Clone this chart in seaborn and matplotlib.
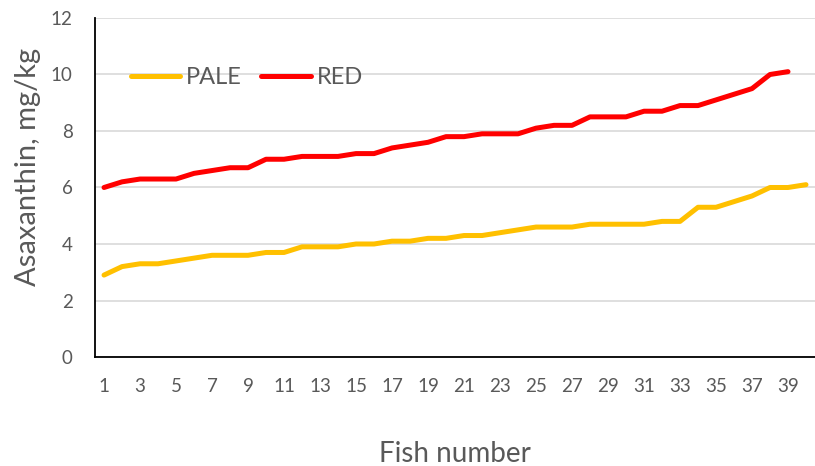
import pandas as pd
import matplotlib.pyplot as plt
import seaborn as sns

# Astaxanthin per fish, sorted ascending
fish_pale = list(range(1, 41))
pale = [2.9, 3.2, 3.3, 3.3, 3.4, 3.5, 3.6, 3.6, 3.6, 3.7,
        3.7, 3.9, 3.9, 3.9, 4.0, 4.0, 4.1, 4.1, 4.2, 4.2,
        4.3, 4.3, 4.4, 4.5, 4.6, 4.6, 4.6, 4.7, 4.7, 4.7,
        4.7, 4.8, 4.8, 5.3, 5.3, 5.5, 5.7, 6.0, 6.0, 6.1]

fish_red = list(range(1, 40))
red = [6.0, 6.2, 6.3, 6.3, 6.3, 6.5, 6.6, 6.7, 6.7, 7.0,
       7.0, 7.1, 7.1, 7.1, 7.2, 7.2, 7.4, 7.5, 7.6, 7.8,
       7.8, 7.9, 7.9, 7.9, 8.1, 8.2, 8.2, 8.5, 8.5, 8.5,
       8.7, 8.7, 8.9, 8.9, 9.1, 9.3, 9.5, 10.0, 10.1]

df = pd.concat([
    pd.DataFrame({"fish": fish_pale, "value": pale, "group": "PALE"}),
    pd.DataFrame({"fish": fish_red, "value": red, "group": "RED"}),
])

sns.set_style("white")
plt.rcParams['font.family'] = ['Lato', 'DejaVu Sans']
text_col = "#595959"

fig = plt.figure(figsize=(8.15, 4.66), dpi=100)
ax = fig.add_axes([0.1166, 0.2339, 0.8834, 0.7275])

sns.lineplot(data=df, x="fish", y="value", hue="group",
             palette={"PALE": "#FFC000", "RED": "#FF0000"},
             linewidth=3.6, ax=ax, solid_capstyle="round")

ax.set_xlim(0.5, 40.5)
ax.set_ylim(0, 12)
ax.set_yticks(range(0, 13, 2))
ax.set_xticks(range(1, 40, 2))
ax.yaxis.grid(True, color="#d9d9d9", linewidth=1.2)
ax.set_axisbelow(True)

for s in ["top", "right"]:
    ax.spines[s].set_visible(False)
for s in ["left", "bottom"]:
    ax.spines[s].set_color("black")
    ax.spines[s].set_linewidth(1.3)

ax.tick_params(axis="both", length=0, labelsize=13.5, colors=text_col)
ax.tick_params(axis="x", pad=15)
ax.tick_params(axis="y", pad=16)

ax.set_xlabel("Fish number", fontsize=20, color=text_col, labelpad=33)
ax.set_ylabel("Asaxanthin, mg/kg", fontsize=21, color=text_col)
ax.yaxis.set_label_coords(-0.075, 0.56)

leg = ax.legend(loc="center left", bbox_to_anchor=(0.02, 0.825), ncol=2,
                frameon=False, fontsize=17, handlelength=2.1,
                handletextpad=0.25, columnspacing=0.8)
for t in leg.get_texts():
    t.set_color(text_col)
for h in leg.get_lines():
    h.set_linewidth(3.6)

plt.savefig("out.png", dpi=100)
